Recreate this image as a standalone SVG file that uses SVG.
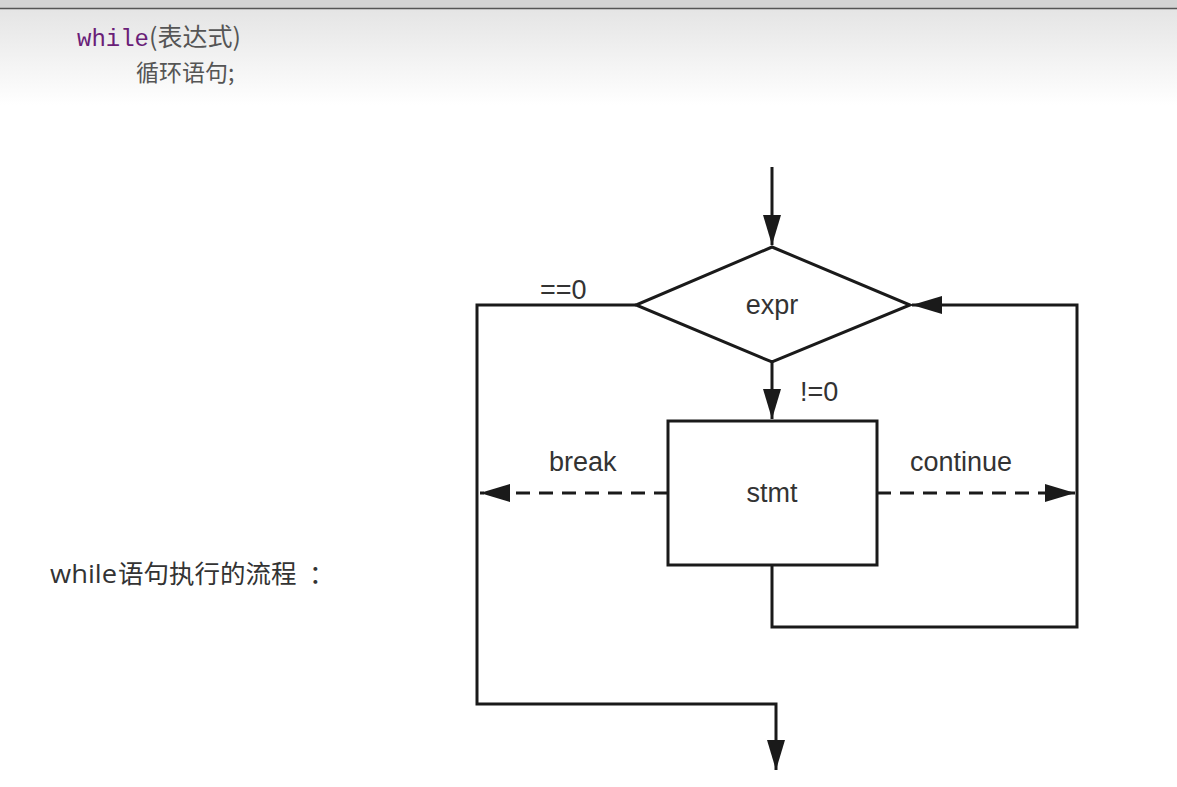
<svg xmlns="http://www.w3.org/2000/svg" width="1177" height="787" viewBox="0 0 1177 787">
<defs>
<linearGradient id="hdr" x1="0" y1="0" x2="0" y2="1">
<stop offset="0" stop-color="#e2e2e2"/>
<stop offset="1" stop-color="#ffffff"/>
</linearGradient>
<marker id="ah" viewBox="0 0 30 20" refX="30" refY="10" markerWidth="30" markerHeight="20" markerUnits="userSpaceOnUse" orient="auto">
<path d="M0,1 L30,10 L0,19 Z" fill="#1a1a1a"/>
</marker>
</defs>
<style>
.ln{fill:none;stroke:#1a1a1a;stroke-width:3}
.dash{fill:none;stroke:#1a1a1a;stroke-width:3;stroke-dasharray:14,9}
.shape{fill:#ffffff;stroke:#1a1a1a;stroke-width:3}
.lbl{font-family:"Liberation Sans",Arial,sans-serif;font-size:27px;fill:#333}
.cn{font-family:"Noto Sans CJK SC",sans-serif;fill:#555}
</style>
<rect width="1177" height="787" fill="#ffffff"/>
<rect x="0" y="0" width="1177" height="105" fill="url(#hdr)"/>
<rect x="0" y="0" width="1177" height="8" fill="#d4d4d4"/>
<line x1="0" y1="8.5" x2="1177" y2="8.5" stroke="#555" stroke-width="1.5"/>
<g id="header-code">
<text x="77" y="46" font-family="Liberation Mono,monospace" font-size="24" fill="#6a1e78">while<tspan class="cn" font-size="25" fill="#555">(表达式)</tspan></text>
<text x="136" y="81" class="cn" font-size="23">循环语句;</text>
</g>
<g id="caption">
<text y="583" font-family="'Open Sans','Noto Sans CJK SC',sans-serif" fill="#333"><tspan x="50" font-size="26" textLength="67" lengthAdjust="spacingAndGlyphs">while</tspan><tspan x="118" font-family="'Noto Sans CJK SC',sans-serif" font-size="25.5">语句执行的流程</tspan><tspan x="309" font-family="'Noto Sans CJK SC',sans-serif" font-size="25.5">：</tspan></text>
</g>
<g id="connectors">
<line class="ln" x1="772" y1="167" x2="772" y2="245" marker-end="url(#ah)"/>
<line class="ln" x1="772" y1="362" x2="772" y2="419" marker-end="url(#ah)"/>
<polyline class="ln" points="636,305 477,305 477,704 776,704 776,770" marker-end="url(#ah)"/>
<polyline class="ln" points="772,565 772,627 1077,627 1077,305 912,305" marker-end="url(#ah)"/>
<line class="dash" x1="668" y1="493" x2="480" y2="493" marker-end="url(#ah)"/>
<line class="dash" x1="877" y1="493" x2="1075" y2="493" marker-end="url(#ah)"/>
<text class="lbl" x="540" y="299">==0</text>
<text class="lbl" x="800" y="401">!=0</text>
<text class="lbl" x="549" y="471">break</text>
<text class="lbl" x="910" y="471">continue</text>
</g>
<g id="node-expr">
<polygon class="shape" points="772,247 910,305 772,362 636,305"/>
<text class="lbl" x="772" y="314" text-anchor="middle">expr</text>
</g>
<g id="node-stmt">
<rect class="shape" x="668" y="421" width="209" height="144"/>
<text class="lbl" x="772" y="502" text-anchor="middle">stmt</text>
</g>
</svg>
